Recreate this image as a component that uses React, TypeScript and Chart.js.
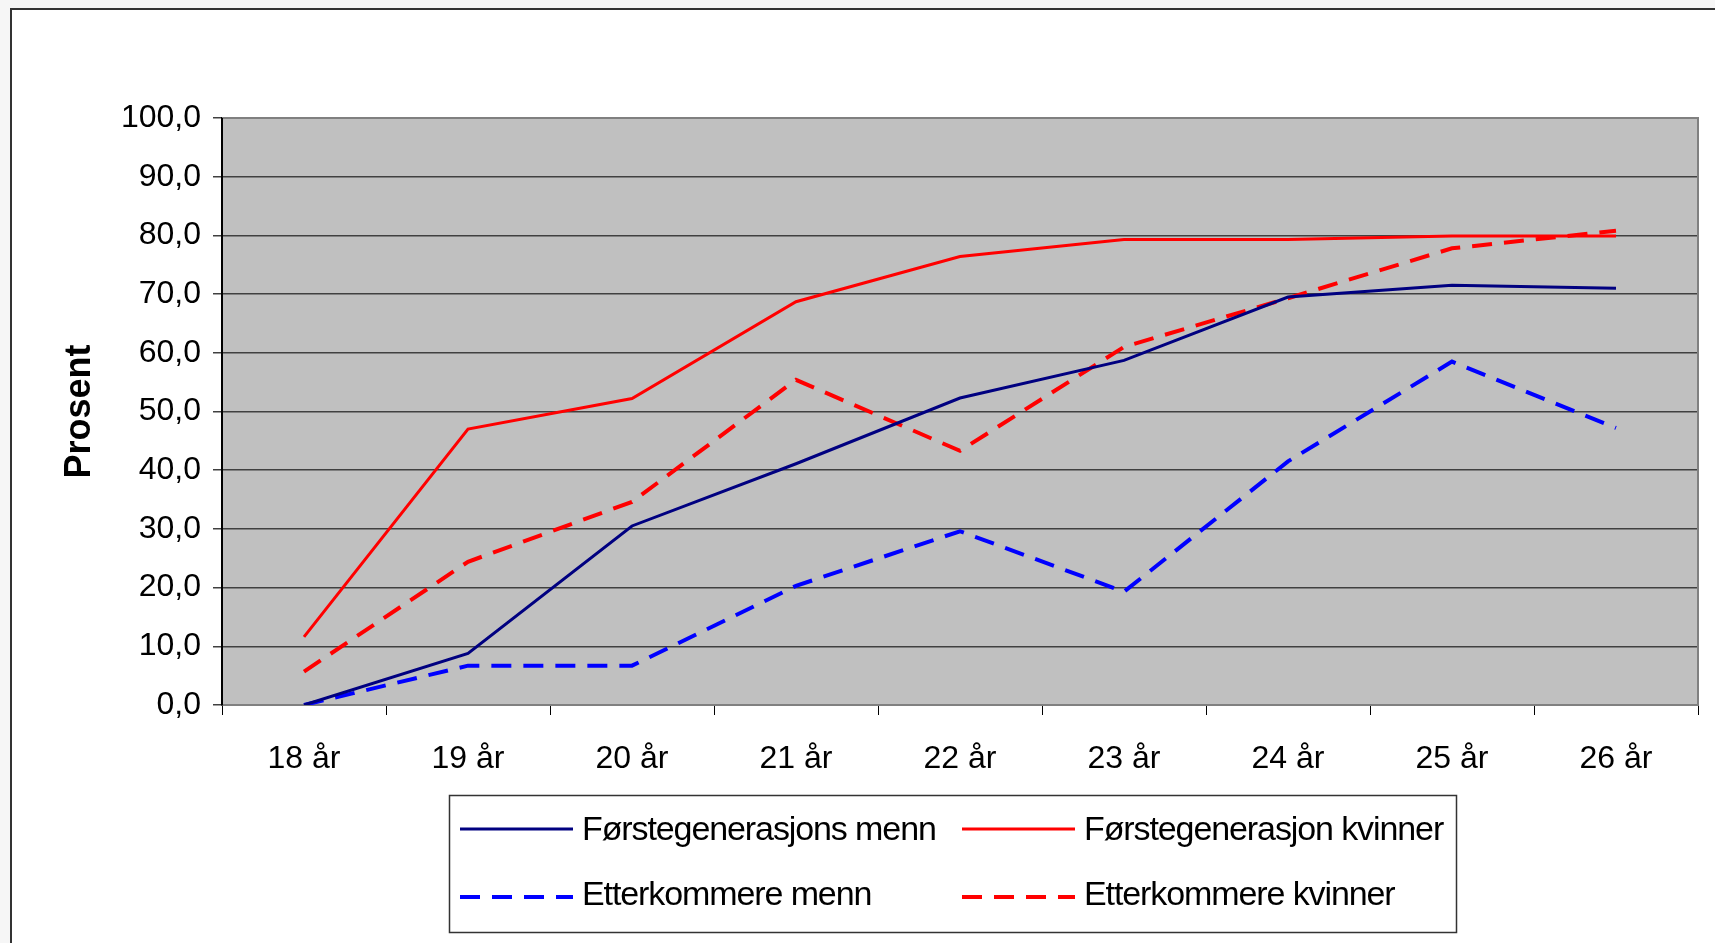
import React, { useEffect, useRef } from "react";
import { Chart, registerables } from "chart.js";

Chart.register(...registerables);

const categories = ["18 år", "19 år", "20 år", "21 år", "22 år", "23 år", "24 år", "25 år", "26 år"];
const forsteGenMenn = [0, 8.8, 30.5, 41.1, 52.3, 58.7, 69.5, 71.5, 71.0];
const forsteGenKvinner = [11.6, 47.0, 52.2, 68.7, 76.4, 79.3, 79.3, 79.9, 79.9];
const etterkommereMenn = [0, 6.7, 6.7, 20.3, 29.6, 19.3, 41.5, 58.5, 47.2];
const etterkommereKvinner = [5.7, 24.4, 34.6, 55.4, 43.3, 61.0, 69.3, 77.8, 80.8];
const yTickLabels = ["0,0", "10,0", "20,0", "30,0", "40,0", "50,0", "60,0", "70,0", "80,0", "90,0", "100,0"];
const seriesNames = ["Førstegenerasjons menn", "Førstegenerasjon kvinner", "Etterkommere menn", "Etterkommere kvinner"];

const FONT = "'Liberation Sans', Arial, sans-serif";

const plotBgPlugin = {
  id: "plotBg",
  beforeDraw(chart: any) {
    const { ctx, chartArea } = chart;
    ctx.save();
    ctx.fillStyle = "#c0c0c0";
    ctx.fillRect(chartArea.left, chartArea.top, chartArea.right - chartArea.left, chartArea.bottom - chartArea.top);
    ctx.restore();
  },
  beforeDatasetsDraw(chart: any) {
    const { ctx, chartArea } = chart;
    ctx.save();
    ctx.strokeStyle = "#808080";
    ctx.lineWidth = 2;
    ctx.beginPath();
    ctx.moveTo(chartArea.left, chartArea.top);
    ctx.lineTo(chartArea.right, chartArea.top);
    ctx.lineTo(chartArea.right, chartArea.bottom);
    ctx.stroke();
    ctx.strokeStyle = "#000";
    ctx.beginPath();
    ctx.moveTo(chartArea.left, chartArea.top);
    ctx.lineTo(chartArea.left, chartArea.bottom);
    ctx.stroke();
    ctx.restore();
  },
};

const legendPlugin = {
  id: "boxLegend",
  afterDraw(chart: any) {
    const { ctx } = chart;
    const box = { x: 449.5, y: 795.5, w: 1007, h: 137 };
    ctx.save();
    ctx.fillStyle = "#fff";
    ctx.fillRect(box.x, box.y, box.w, box.h);
    ctx.strokeStyle = "#333";
    ctx.lineWidth = 1.5;
    ctx.strokeRect(box.x, box.y, box.w, box.h);
    const cols = [460, 962];
    const rows = [829, 897];
    const textBase = [840, 905];
    chart.data.datasets.forEach((ds: any, i: number) => {
      const c = i % 2;
      const r = Math.floor(i / 2);
      const x0 = cols[c];
      const y = rows[r];
      ctx.strokeStyle = ds.borderColor;
      ctx.lineWidth = ds.borderDash && ds.borderDash.length ? 4 : 3;
      ctx.setLineDash(ds.borderDash || []);
      ctx.beginPath();
      ctx.moveTo(x0, y);
      ctx.lineTo(x0 + 113, y);
      ctx.stroke();
      ctx.setLineDash([]);
      ctx.fillStyle = "#000";
      ctx.font = `34px ${FONT}`;
      try { (ctx as any).letterSpacing = "-1.1px"; } catch (e) {}
      ctx.textAlign = "left";
      ctx.textBaseline = "alphabetic";
      ctx.fillText(ds.label, x0 + 122, textBase[r]);
      try { (ctx as any).letterSpacing = "0px"; } catch (e) {}
    });
    ctx.restore();
  },
};

export default function App() {
  const ref = useRef<HTMLCanvasElement | null>(null);
  useEffect(() => {
    if (!ref.current) return;
    const chart = new Chart(ref.current, {
      type: "line",
      data: {
        labels: categories,
        datasets: [
          { label: seriesNames[0], data: forsteGenMenn, borderColor: "#000080", borderWidth: 3, pointRadius: 0, fill: false, tension: 0 },
          { label: seriesNames[1], data: forsteGenKvinner, borderColor: "#ff0000", borderWidth: 3, pointRadius: 0, fill: false, tension: 0 },
          { label: seriesNames[2], data: etterkommereMenn, borderColor: "#0000ff", borderWidth: 4, borderDash: [20, 12], pointRadius: 0, fill: false, tension: 0 },
          { label: seriesNames[3], data: etterkommereKvinner, borderColor: "#ff0000", borderWidth: 4, borderDash: [20, 12], pointRadius: 0, fill: false, tension: 0 },
        ],
      },
      options: {
        responsive: false,
        animation: false,
        devicePixelRatio: 1,
        layout: { padding: { left: 0, top: 118, right: 17, bottom: 0 } },
        plugins: { legend: { display: false }, tooltip: { enabled: false }, title: { display: false } },
        scales: {
          x: {
            type: "category",
            offset: true,
            grid: { offset: true, drawOnChartArea: false, drawTicks: true, tickLength: 10, color: "#000", lineWidth: 1 },
            border: { display: true, color: "#808080", width: 2 },
            ticks: { color: "#000", font: { size: 32, family: FONT }, padding: 25, maxRotation: 0, autoSkip: false },
            afterFit: (s: any) => { s.height = 238; },
          },
          y: {
            min: 0,
            max: 100,
            ticks: {
              stepSize: 10,
              color: "#000",
              font: { size: 32, family: FONT },
              padding: 12,
              callback: (_v: any, i: number) => yTickLabels[i],
            },
            grid: { color: "#404040", lineWidth: 1.5, drawTicks: true, tickLength: 9 },
            border: { display: true, color: "#000", width: 2 },
            title: { display: true, text: "Prosent", color: "#000", font: { size: 36, weight: "bold", family: FONT }, padding: { top: 58, bottom: 0 } },
            afterFit: (s: any) => { s.width = 222; },
          },
        },
      },
      plugins: [plotBgPlugin, legendPlugin],
    });
    return () => chart.destroy();
  }, []);

  return (
    <div style={{ position: "fixed", left: 0, top: 0, width: 1715, height: 943, background: "#f6f6f6", overflow: "hidden" }}>
      <div style={{ position: "absolute", left: 10, top: 8, width: 1800, height: 1000, background: "#fff", borderLeft: "2px solid #333", borderTop: "2px solid #333" }} />
      <canvas ref={ref} width={1715} height={943} style={{ position: "absolute", left: 0, top: 0 }} />
    </div>
  );
}
